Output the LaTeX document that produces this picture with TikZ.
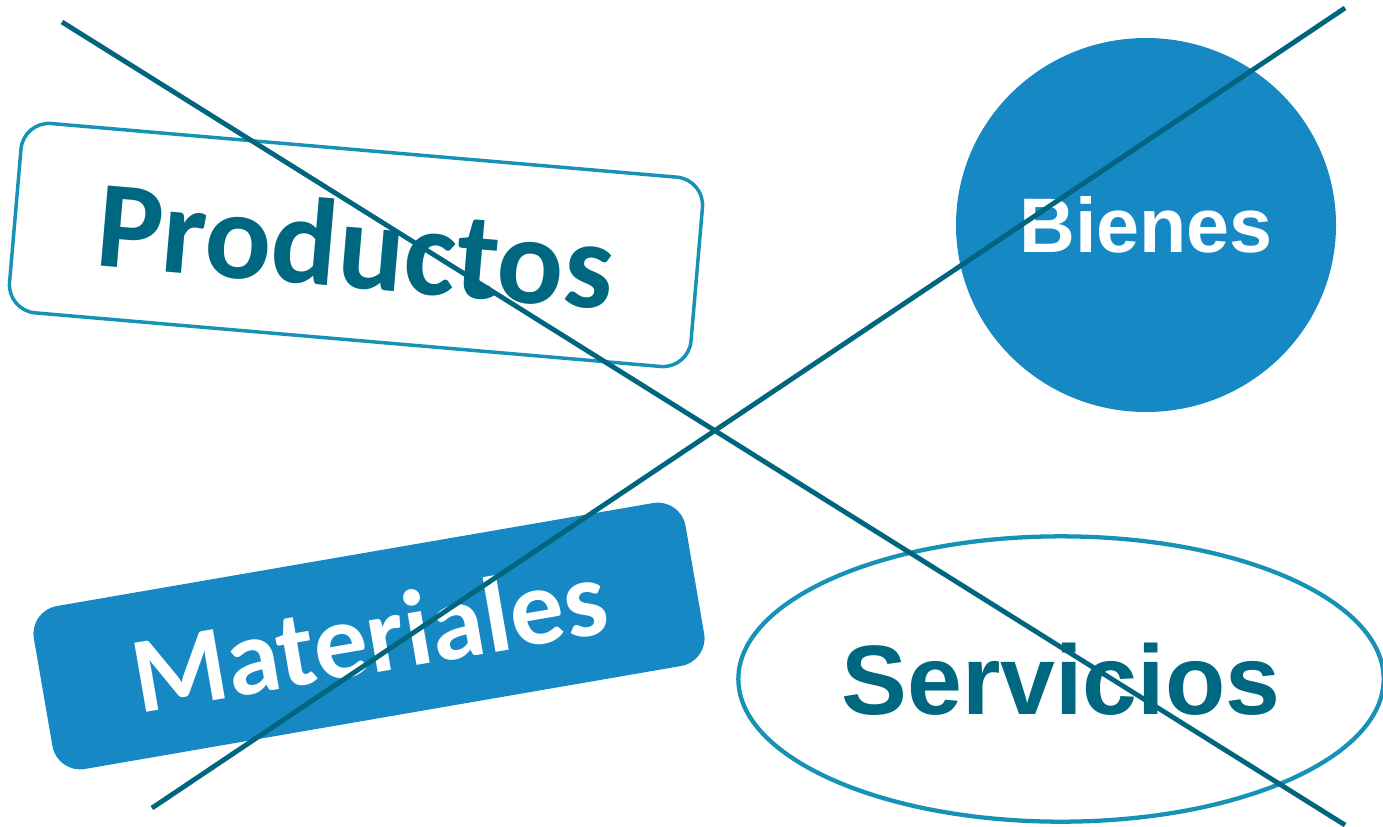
\documentclass[tikz,border=0pt]{standalone}
\usepackage{fontspec}
\usetikzlibrary{shapes.geometric}
\newfontfamily\carlitofont{Carlito}
\newfontfamily\arialfont{Liberation Sans}
\definecolor{crossteal}{RGB}{0,102,128}
\definecolor{boxteal}{RGB}{21,146,181}
\definecolor{fillblue}{RGB}{22,137,197}
\definecolor{textteal}{RGB}{0,103,128}
\tikzset{every picture/.style={line width=0.75pt}}
\tikzset{
  wordbox/.style={rounded corners=21pt, inner sep=0pt},
  wordoval/.style={ellipse, inner sep=0pt},
  crossline/.style={crossteal, line width=3.6pt},
  crossshadow/.style={black, opacity=0.15, line width=3.6pt}
}

\begin{document}
\begin{tikzpicture}[x=0.75pt,y=0.75pt,yscale=-1,xscale=1]
  \useasboundingbox (0,0) rectangle (1383,826);

  % Rounded Rect [id:productos]
  \node (productos) at (356,245) [wordbox, draw=boxteal, line width=2.6pt, fill=white, minimum width=513pt, minimum height=142.5pt, rotate=-4.9, text=textteal, font=\carlitofont\bfseries\fontsize{93}{93}\selectfont] {Productos};
  % Ellipse [id:bienes]
  \node (bienes) at (1146,225) [wordoval, fill=fillblue, minimum width=285pt, minimum height=280.5pt, text=white, font=\arialfont\bfseries\fontsize{58}{58}\selectfont] {Bienes};
  % Rounded Rect [id:materiales]
  \node (materiales) at (369,636) [wordbox, fill=fillblue, minimum width=496pt, minimum height=124pt, rotate=9.8, text=white, font=\carlitofont\bfseries\fontsize{81}{81}\selectfont] {Materiales};
  % Ellipse [id:servicios]
  \node (servicios) at (1061,679) [wordoval, draw=boxteal, line width=3.2pt, minimum width=484pt, minimum height=214pt, text=textteal, font=\arialfont\bfseries\fontsize{74}{74}\selectfont] {Servicios};

  % Cross Lines
  \coordinate (crossA) at (62,22);
  \coordinate (crossB) at (1345,825);
  \coordinate (crossC) at (152,808);
  \coordinate (crossD) at (1345,8);
  \draw [crossshadow, shift={(2,3)}] (crossA) -- (crossB);
  \draw [crossshadow, shift={(2,3)}] (crossC) -- (crossD);
  \draw [crossline] (crossA) -- (crossB);
  \draw [crossline] (crossC) -- (crossD);

\end{tikzpicture}
\end{document}
